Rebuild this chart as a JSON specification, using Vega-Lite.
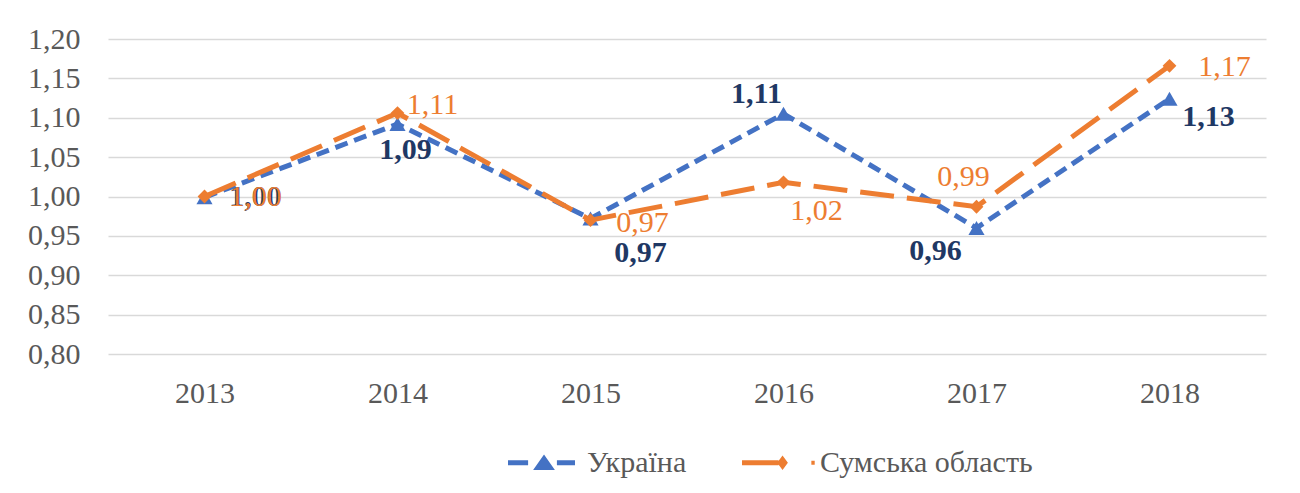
{
  "$schema": "https://vega.github.io/schema/vega-lite/v6.json",
  "autosize": {"type": "none"},
  "width": 1158,
  "height": 315,
  "padding": {"left": 108, "top": 39, "right": 34, "bottom": 139},
  "background": "white",
  "config": {
    "font": "Liberation Serif",
    "view": {"stroke": null},
    "text": {"font": "Liberation Serif"}
  },
  "data": {
    "values": [
      {"year": "2013", "series": "Україна", "value": 0.999, "label": "1,00"},
      {"year": "2014", "series": "Україна", "value": 1.092, "label": "1,09"},
      {"year": "2015", "series": "Україна", "value": 0.972, "label": "0,97"},
      {"year": "2016", "series": "Україна", "value": 1.105, "label": "1,11"},
      {"year": "2017", "series": "Україна", "value": 0.960, "label": "0,96"},
      {"year": "2018", "series": "Україна", "value": 1.124, "label": "1,13"},
      {"year": "2013", "series": "Сумська область", "value": 1.000, "label": "1,00"},
      {"year": "2014", "series": "Сумська область", "value": 1.106, "label": "1,11"},
      {"year": "2015", "series": "Сумська область", "value": 0.970, "label": "0,97"},
      {"year": "2016", "series": "Сумська область", "value": 1.018, "label": "1,02"},
      {"year": "2017", "series": "Сумська область", "value": 0.987, "label": "0,99"},
      {"year": "2018", "series": "Сумська область", "value": 1.166, "label": "1,17"}
    ]
  },
  "encoding": {
    "x": {
      "field": "year", "type": "ordinal",
      "scale": {"type": "point", "padding": 0.5},
      "axis": {
        "title": null, "labelAngle": 0, "ticks": false,
        "domain": false, "labelPadding": 24,
        "labelFontSize": 30, "labelColor": "#595959", "labelFont": "Liberation Serif"
      }
    },
    "y": {
      "field": "value", "type": "quantitative",
      "scale": {"domain": [0.8, 1.2], "nice": false, "zero": false},
      "axis": {
        "title": null, "values": [0.8, 0.85, 0.9, 0.95, 1.0, 1.05, 1.1, 1.15, 1.2],
        "labelExpr": "replace(format(datum.value, '.2f'), '.', ',')",
        "ticks": false, "domain": false, "labelPadding": 28,
        "labelFontSize": 30, "labelColor": "#595959", "labelFont": "Liberation Serif",
        "gridColor": "#d9d9d9", "gridWidth": 1.5
      }
    }
  },
  "layer": [
    {
      "mark": {"type": "line", "strokeWidth": 5},
      "encoding": {
        "color": {
          "field": "series", "type": "nominal",
          "scale": {"domain": ["Україна", "Сумська область"], "range": ["#4472C4", "#ED7D31"]},
          "legend": {
            "title": null, "orient": "none", "direction": "horizontal",
            "legendX": 400, "legendY": 390,
            "labelFontSize": 30, "labelColor": "#595959", "labelFont": "Liberation Serif",
            "labelLimit": 600,
            "columnPadding": 54, "symbolSize": 4489, "labelOffset": 12,
            "symbolStrokeWidth": 0,
            "encode": {
              "symbols": {
                "update": {
                  "shape": {"signal": "datum.value === 'Україна' ? 'M-1,-0.075H-0.4V0.075H-1Z M-0.25,0.22L0.075,-0.25L0.4,0.22Z M0.46,-0.075H1V0.075H0.46Z' : 'M-0.97,-0.075H0.12V0.075H-0.97Z M0.24,-0.22L0.4,0L0.24,0.22L0.08,0Z M1.1,-0.06H1.2V0.06H1.1Z'"},
                  "fill": {"signal": "datum.value === 'Україна' ? '#4472C4' : '#ED7D31'"},
                  "fillOpacity": {"value": 1},
                  "strokeWidth": {"value": 0},
                  "size": {"value": 4489}
                }
              }
            }
          }
        },
        "strokeDash": {
          "field": "series", "type": "nominal",
          "scale": {"domain": ["Україна", "Сумська область"], "range": [[13, 7], [34, 13]]},
          "legend": null
        }
      }
    },
    {
      "transform": [{"filter": "datum.series == 'Україна'"}],
      "mark": {"type": "point", "shape": "triangle-up", "filled": true, "opacity": 1, "size": 260, "color": "#4472C4"},
      "encoding": {}
    },
    {
      "transform": [{"filter": "datum.series == 'Сумська область'"}],
      "mark": {"type": "point", "shape": "diamond", "filled": true, "opacity": 1, "size": 190, "color": "#ED7D31"},
      "encoding": {}
    },
    {"transform": [{"filter": "datum.series == 'Україна' && datum.year == '2013'"}], "mark": {"type": "text", "fontSize": 30, "fontWeight": "bold", "color": "#1F3864", "dx": 51, "dy": 0}, "encoding": {"text": {"field": "label"}}},
    {"transform": [{"filter": "datum.series == 'Україна' && datum.year == '2014'"}], "mark": {"type": "text", "fontSize": 30, "fontWeight": "bold", "color": "#1F3864", "dx": 8, "dy": 26}, "encoding": {"text": {"field": "label"}}},
    {"transform": [{"filter": "datum.series == 'Україна' && datum.year == '2015'"}], "mark": {"type": "text", "fontSize": 30, "fontWeight": "bold", "color": "#1F3864", "dx": 50, "dy": 34}, "encoding": {"text": {"field": "label"}}},
    {"transform": [{"filter": "datum.series == 'Україна' && datum.year == '2016'"}], "mark": {"type": "text", "fontSize": 30, "fontWeight": "bold", "color": "#1F3864", "dx": -27, "dy": -20}, "encoding": {"text": {"field": "label"}}},
    {"transform": [{"filter": "datum.series == 'Україна' && datum.year == '2017'"}], "mark": {"type": "text", "fontSize": 30, "fontWeight": "bold", "color": "#1F3864", "dx": -41, "dy": 23}, "encoding": {"text": {"field": "label"}}},
    {"transform": [{"filter": "datum.series == 'Україна' && datum.year == '2018'"}], "mark": {"type": "text", "fontSize": 30, "fontWeight": "bold", "color": "#1F3864", "dx": 39, "dy": 18}, "encoding": {"text": {"field": "label"}}},
    {"transform": [{"filter": "datum.series == 'Сумська область' && datum.year == '2013'"}], "mark": {"type": "text", "fontSize": 30, "color": "#ED7D31", "dx": 51, "dy": 0}, "encoding": {"text": {"field": "label"}}},
    {"transform": [{"filter": "datum.series == 'Сумська область' && datum.year == '2014'"}], "mark": {"type": "text", "fontSize": 30, "color": "#ED7D31", "dx": 35, "dy": -8}, "encoding": {"text": {"field": "label"}}},
    {"transform": [{"filter": "datum.series == 'Сумська область' && datum.year == '2015'"}], "mark": {"type": "text", "fontSize": 30, "color": "#ED7D31", "dx": 52, "dy": 3}, "encoding": {"text": {"field": "label"}}},
    {"transform": [{"filter": "datum.series == 'Сумська область' && datum.year == '2016'"}], "mark": {"type": "text", "fontSize": 30, "color": "#ED7D31", "dx": 33, "dy": 29}, "encoding": {"text": {"field": "label"}}},
    {"transform": [{"filter": "datum.series == 'Сумська область' && datum.year == '2017'"}], "mark": {"type": "text", "fontSize": 30, "color": "#ED7D31", "dx": -13, "dy": -30}, "encoding": {"text": {"field": "label"}}},
    {"transform": [{"filter": "datum.series == 'Сумська область' && datum.year == '2018'"}], "mark": {"type": "text", "fontSize": 30, "color": "#ED7D31", "dx": 55, "dy": 1}, "encoding": {"text": {"field": "label"}}}
  ]
}
